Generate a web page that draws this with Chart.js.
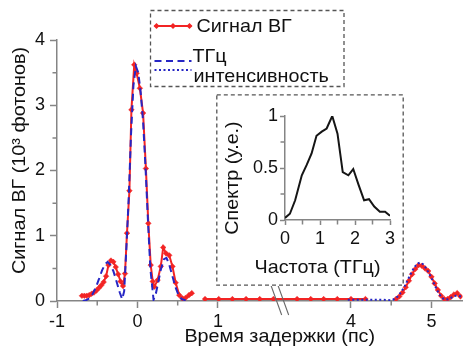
<!DOCTYPE html>
<html>
<head>
<meta charset="utf-8">
<script src="https://cdn.jsdelivr.net/npm/chart.js@4.4.1/dist/chart.umd.min.js"></script>
<style>
  html, body { margin: 0; padding: 0; background: #fff; }
  #wrap { position: relative; width: 467px; height: 358px; overflow: hidden; }
  canvas { position: absolute; display: block; }
  #main { left: 0; top: 0; }
  #inset { left: 216px; top: 94px; }
</style>
</head>
<body>
<div id="wrap">
  <canvas id="main" width="467" height="358"></canvas>
  <canvas id="inset" width="188" height="192"></canvas>
</div>
<script>
// ---- Second-harmonic (ВГ) signal versus delay time, ps ----
const sigTime = [-0.69, -0.66, -0.63, -0.60, -0.57, -0.54, -0.51, -0.48, -0.45, -0.42,
  -0.39, -0.36, -0.33, -0.30, -0.27, -0.24, -0.21, -0.18, -0.155, -0.13,
  -0.10, -0.075, -0.04, -0.01, 0.03, 0.07, 0.105, 0.135, 0.165, 0.19,
  0.21, 0.25, 0.29, 0.32, 0.355, 0.395, 0.435, 0.475, 0.52, 0.56,
  0.60, 0.64, 0.675, 0.76, 0.84, 1.01, 1.18, 1.35, 1.52, 1.69,
  3.33, 3.50, 3.66, 3.83, 4.00, 4.18, 4.37, 4.56, 4.60, 4.64,
  4.68, 4.72, 4.76, 4.80, 4.84, 4.88, 4.92, 4.96, 5.00, 5.04,
  5.08, 5.12, 5.16, 5.20, 5.24, 5.28, 5.32, 5.36];
const sigValue = [0.08, 0.08, 0.08, 0.09, 0.11, 0.13, 0.16, 0.20, 0.24, 0.29,
  0.38, 0.55, 0.62, 0.60, 0.52, 0.41, 0.30, 0.23, 0.42, 1.04,
  1.69, 2.93, 3.62, 3.49, 3.26, 2.88, 2.03, 1.19, 0.55, 0.30,
  0.22, 0.32, 0.53, 0.82, 0.73, 0.70, 0.53, 0.28, 0.09, 0.04,
  0.05, 0.09, 0.12, null, 0.03, 0.03, 0.03, 0.03, 0.03, 0.03,
  0.03, 0.03, 0.03, 0.03, 0.03, 0.03, null, 0.03, 0.07, 0.13,
  0.21, 0.31, 0.41, 0.49, 0.55, 0.54, 0.50, 0.46, 0.37, 0.27,
  0.17, 0.08, 0.03, 0.03, 0.06, 0.10, 0.12, 0.07];

// THz intensity, first window (dashed)
const thzTime = [-0.68, -0.64, -0.60, -0.56, -0.52, -0.48, -0.44, -0.40, -0.37, -0.34,
  -0.30, -0.26, -0.22, -0.19, -0.165, -0.14, -0.11, -0.08, -0.05, -0.02,
  0.01, 0.04, 0.07, 0.10, 0.13, 0.16, 0.20, 0.23, 0.26, 0.29,
  0.33, 0.36, 0.39, 0.43, 0.47, 0.51, 0.55, 0.60];
const thzValue = [0.00, 0.01, 0.04, 0.10, 0.20, 0.33, 0.47, 0.57, 0.60, 0.56,
  0.46, 0.30, 0.13, 0.03, 0.15, 0.75, 1.55, 2.55, 3.30, 3.60,
  3.50, 3.20, 2.75, 2.05, 1.25, 0.50, 0.02, 0.12, 0.30, 0.48,
  0.64, 0.66, 0.58, 0.40, 0.22, 0.09, 0.03, 0.01];

// THz intensity, second window (dotted)
const intTime = [3.96, 4.10, 4.25, 4.40, 4.50, 4.54, 4.58, 4.62, 4.66, 4.70,
  4.74, 4.78, 4.82, 4.86, 4.90, 4.94, 4.98, 5.02, 5.06, 5.10,
  5.14, 5.18, 5.22, 5.26, 5.30, 5.34, 5.386];
const intValue = [0.02, 0.02, 0.02, 0.02, 0.01, 0.03, 0.07, 0.13, 0.21, 0.31,
  0.41, 0.50, 0.57, 0.59, 0.56, 0.49, 0.40, 0.30, 0.19, 0.10,
  0.04, 0.02, 0.03, 0.06, 0.08, 0.08, 0.06];

// THz spectrum (inset), frequency in THz, arb. units
const specFreq = [0, 0.14, 0.29, 0.48, 0.62, 0.76, 0.90, 1.05, 1.19, 1.35,
  1.50, 1.65, 1.81, 1.95, 2.10, 2.26, 2.40, 2.55, 2.71, 2.86, 3.0];
const specValue = [0.02, 0.06, 0.19, 0.43, 0.53, 0.64, 0.81, 0.85, 0.88, 1.0,
  0.83, 0.46, 0.43, 0.49, 0.34, 0.19, 0.20, 0.13, 0.08, 0.08, 0.04];

// Ticks
const xTickTimes = [-1, 0, 1, 4, 5];
const xTickLabels = ['-1', '0', '1', '4', '5'];
const xMinorTimes = [-0.5, 0.5, 4.5];
const yTickValues = [0, 1, 2, 3, 4];
const yMinorValues = [0.5, 1.5, 2.5, 3.5];
const insetXTicks = [0, 1, 2, 3];
const insetXMinor = [0.5, 1.5, 2.5];
const insetYTicks = [0, 0.5, 1];
const insetYMinor = [0.25, 0.75];

// Texts
const xTitle = 'Время задержки (пс)';
const yTitle = 'Сигнал ВГ (10³ фотонов)';
const insetXTitle = 'Частота (ТГц)';
const insetYTitle = 'Спектр (у.е.)';
const legendSignal = 'Сигнал ВГ';
const legendThz1 = 'ТГц';
const legendThz2 = 'интенсивность';

// Broken time axis: the interval between breakFrom and breakTo is cut out
const breakFrom = 1.78;
const breakTo = 3.126;
function axisPos(t) { return t <= breakFrom ? t : t - (breakTo - breakFrom); }

const FONT = '"Liberation Sans", Arial, sans-serif';
const TEXT_FONT = '19px ' + FONT;
const TEXT_STRETCH = 1.04;
const AXIS = '#858585';
const RED = '#f22424';
const BLUE = '#2626c4';

const toPoints = (xs, ys, f) => xs.map((t, i) => ({ x: f ? f(t) : t, y: ys[i] }));

function line(ctx, x1, y1, x2, y2) { ctx.moveTo(x1, y1); ctx.lineTo(x2, y2); }

function diamond(ctx, x, y, r) {
  ctx.beginPath();
  ctx.moveTo(x, y - r); ctx.lineTo(x + r, y); ctx.lineTo(x, y + r); ctx.lineTo(x - r, y);
  ctx.closePath(); ctx.fill();
}

// Text with a slightly wide face; (x, y) is the anchor point, angle in radians
function label(ctx, text, x, y, align, baseline, angle) {
  ctx.save();
  ctx.translate(x, y);
  if (angle) ctx.rotate(angle);
  ctx.scale(TEXT_STRETCH, 1);
  ctx.font = TEXT_FONT;
  ctx.textAlign = align; ctx.textBaseline = baseline;
  ctx.fillText(text, 0, 0);
  ctx.restore();
}

const mainDecor = {
  id: 'mainDecor',
  beforeDraw(chart) {
    const ctx = chart.ctx;
    ctx.save(); ctx.fillStyle = '#fff'; ctx.fillRect(0, 0, chart.width, chart.height); ctx.restore();
  },
  afterDraw(chart) {
    const { ctx, chartArea: ca, scales: { x, y } } = chart;
    ctx.save();
    // minor ticks
    ctx.strokeStyle = AXIS; ctx.lineWidth = 1.5;
    ctx.beginPath();
    xMinorTimes.forEach(t => { const px = x.getPixelForValue(axisPos(t)); line(ctx, px, ca.bottom, px, ca.bottom + 4.5); });
    yMinorValues.forEach(v => { const py = y.getPixelForValue(v); line(ctx, ca.left - 4.5, py, ca.left, py); });
    ctx.stroke();
    // axis break marks
    const bx = x.getPixelForValue(axisPos(breakFrom));
    ctx.strokeStyle = '#6a6a6a'; ctx.lineWidth = 1.1;
    ctx.beginPath();
    line(ctx, bx - 10, ca.bottom - 16.5, bx + 1, ca.bottom + 14);
    line(ctx, bx - 3, ca.bottom - 16.5, bx + 8, ca.bottom + 14);
    ctx.stroke();
    // axis titles
    ctx.fillStyle = '#111';
    label(ctx, xTitle, (ca.left + ca.right) / 2 + 20, ca.bottom + 36, 'center', 'middle');
    label(ctx, yTitle, 20, (ca.top + ca.bottom) / 2 - 10, 'center', 'middle', -Math.PI / 2);

    // legend
    const L = 150.5, T = 10.5, W = 193.5, H = 76;
    ctx.fillStyle = '#fff'; ctx.fillRect(L, T, W, H);
    ctx.strokeStyle = '#555'; ctx.lineWidth = 1.3; ctx.setLineDash([4, 3]);
    ctx.strokeRect(L, T, W, H);
    ctx.setLineDash([]);
    // signal sample
    ctx.strokeStyle = RED; ctx.lineWidth = 2;
    ctx.beginPath(); line(ctx, L + 4, 26, L + 41, 26); ctx.stroke();
    ctx.fillStyle = RED;
    [L + 6, L + 22.5, L + 39].forEach(px => diamond(ctx, px, 26, 3));
    // THz samples
    ctx.strokeStyle = BLUE; ctx.lineWidth = 2;
    ctx.setLineDash([7, 4.5]);
    ctx.beginPath(); line(ctx, L + 4, 61, L + 41, 61); ctx.stroke();
    ctx.setLineDash([2, 2.5]);
    ctx.beginPath(); line(ctx, L + 4, 70, L + 41, 70); ctx.stroke();
    ctx.setLineDash([]);
    ctx.fillStyle = '#111';
    label(ctx, legendSignal, L + 46, 32, 'left', 'alphabetic');
    label(ctx, legendThz1, L + 42, 62, 'left', 'alphabetic');
    label(ctx, legendThz2, L + 43, 82, 'left', 'alphabetic');
    ctx.restore();
  }
};

const insetDecor = {
  id: 'insetDecor',
  beforeDraw(chart) {
    const ctx = chart.ctx;
    ctx.save();
    ctx.fillStyle = '#fff'; ctx.fillRect(0, 0, chart.width, chart.height);
    ctx.strokeStyle = '#555'; ctx.lineWidth = 1.3; ctx.setLineDash([4, 3]);
    ctx.strokeRect(0.8, 0.8, chart.width - 1.6, chart.height - 1.6);
    ctx.restore();
  },
  afterDraw(chart) {
    const { ctx, chartArea: ca, scales: { x, y } } = chart;
    ctx.save();
    ctx.strokeStyle = AXIS; ctx.lineWidth = 1.5;
    ctx.beginPath();
    insetXMinor.forEach(v => { const px = x.getPixelForValue(v); line(ctx, px, ca.bottom, px, ca.bottom + 4.5); });
    insetYMinor.forEach(v => { const py = y.getPixelForValue(v); line(ctx, ca.left - 4.5, py, ca.left, py); });
    ctx.stroke();
    ctx.fillStyle = '#111';
    label(ctx, insetXTitle, (ca.left + ca.right) / 2 - 20, ca.bottom + 48, 'center', 'middle');
    label(ctx, insetYTitle, 17, (ca.top + ca.bottom) / 2 + 10, 'center', 'middle', -Math.PI / 2);
    ctx.restore();
  }
};

const tickFont = { family: FONT, size: 18 };
const gridOpts = { drawOnChartArea: false, drawTicks: true, tickLength: 7, tickColor: AXIS, tickWidth: 1.5 };
const borderOpts = { display: true, color: AXIS, width: 1.5 };

new Chart(document.getElementById('main'), {
  type: 'line',
  data: {
    datasets: [
      { label: legendThz1, data: toPoints(thzTime, thzValue, axisPos), borderColor: BLUE, borderWidth: 2,
        borderDash: [7, 4.5], pointRadius: 0 },
      { label: legendThz2, data: toPoints(intTime, intValue, axisPos), borderColor: BLUE, borderWidth: 2,
        borderDash: [2, 2.5], pointRadius: 0 },
      { label: legendSignal, data: toPoints(sigTime, sigValue, axisPos), borderColor: RED, borderWidth: 2,
        pointStyle: 'rectRot', pointRadius: 2.8, pointBackgroundColor: RED, pointBorderColor: RED, pointBorderWidth: 0.5 }
    ]
  },
  options: {
    responsive: false, animation: false, events: [],
    layout: { padding: { top: 40, right: 2, left: 0, bottom: 0 } },
    plugins: { legend: { display: false }, tooltip: { enabled: false } },
    elements: { line: { tension: 0, fill: false } },
    scales: {
      x: {
        type: 'linear', min: -1, max: axisPos(5.386),
        afterBuildTicks: s => { s.ticks = xTickTimes.map(t => ({ value: axisPos(t) })); },
        afterFit: s => { s.height = 57; },
        ticks: { callback: (v, i) => xTickLabels[i], font: tickFont, color: '#111', padding: 3, maxRotation: 0, autoSkip: false },
        grid: gridOpts, border: borderOpts
      },
      y: {
        type: 'linear', min: 0, max: 4,
        afterBuildTicks: s => { s.ticks = yTickValues.map(v => ({ value: v })); },
        afterFit: s => { s.width = 57; },
        ticks: { callback: v => String(v), font: tickFont, color: '#111', padding: 5 },
        grid: gridOpts, border: borderOpts
      }
    }
  },
  plugins: [mainDecor]
});

new Chart(document.getElementById('inset'), {
  type: 'line',
  data: {
    datasets: [
      { label: insetYTitle, data: toPoints(specFreq, specValue), borderColor: '#151515', borderWidth: 2, pointRadius: 0 }
    ]
  },
  options: {
    responsive: false, animation: false, events: [],
    layout: { padding: { top: 22, right: 14, left: 0, bottom: 0 } },
    plugins: { legend: { display: false }, tooltip: { enabled: false } },
    elements: { line: { tension: 0, fill: false } },
    scales: {
      x: {
        type: 'linear', min: 0, max: 3,
        afterBuildTicks: s => { s.ticks = insetXTicks.map(v => ({ value: v })); },
        afterFit: s => { s.height = 66; },
        ticks: { callback: v => String(v), font: tickFont, color: '#111', padding: 3, maxRotation: 0, autoSkip: false },
        grid: Object.assign({}, gridOpts, { tickLength: 5 }), border: borderOpts
      },
      y: {
        type: 'linear', min: 0, max: 1,
        afterBuildTicks: s => { s.ticks = insetYTicks.map(v => ({ value: v })); },
        afterFit: s => { s.width = 69; },
        ticks: { callback: v => String(v), font: tickFont, color: '#111', padding: 2 },
        grid: Object.assign({}, gridOpts, { tickLength: 5 }), border: borderOpts
      }
    }
  },
  plugins: [insetDecor]
});
</script>
</body>
</html>
